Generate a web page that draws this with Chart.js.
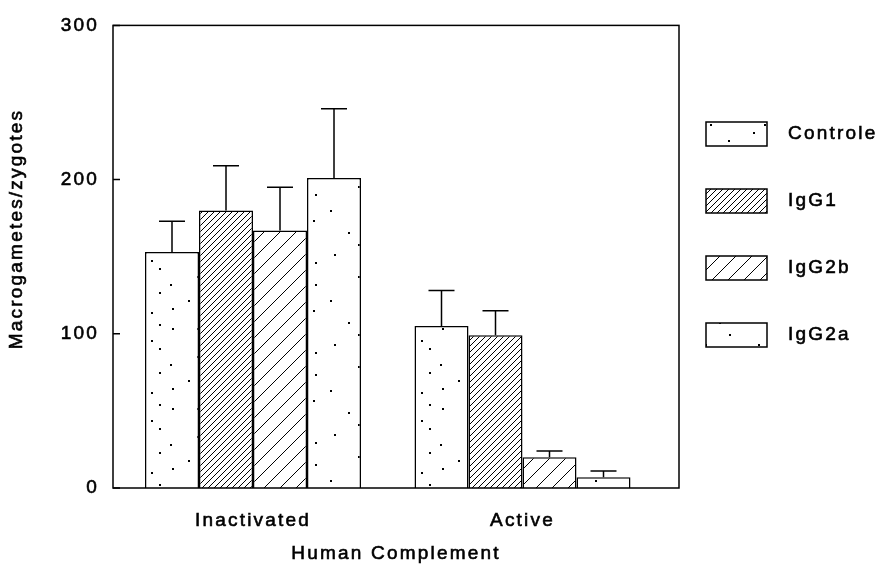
<!DOCTYPE html>
<html>
<head>
<meta charset="utf-8">
<script src="https://cdn.jsdelivr.net/npm/chart.js@4.4.0/dist/chart.umd.min.js"></script>
<style>
  body { margin: 0; background: #fff; }
  #wrap { width: 881px; height: 567px; }
</style>
</head>
<body>
<div id="wrap"><canvas id="myChart"></canvas></div>
<script>
// Values
const groups = ['Inactivated', 'Active'];
const groupPos = [0, 1];
const seriesNames = ['Controle', 'IgG1', 'IgG2b', 'IgG2a'];
const controle = [153, 105];
const igg1 = [180, 99];
const igg2b = [167, 20];
const igg2a = [201, 7];
const controleErr = [20, 23];
const igg1Err = [29, 16];
const igg2bErr = [28, 4];
const igg2aErr = [45, 4];
const yTicks = [0, 100, 200, 300];

const errs = [controleErr, igg1Err, igg2bErr, igg2aErr];
const ink = '#000';
const fontFamily = "'Liberation Sans', Arial, sans-serif";
const fontCss = '19px ' + fontFamily;
const strokeW = 0.6;

// diagonal hatch fill
function hatch(step) {
    const c = document.createElement('canvas');
    c.width = step; c.height = step;
    const g = c.getContext('2d');
    g.fillStyle = '#fff';
    g.fillRect(0, 0, step, step);
    g.strokeStyle = ink;
    g.lineWidth = 1;
    g.beginPath();
    g.moveTo(-1, step + 1); g.lineTo(step + 1, -1);
    g.moveTo(-1, 1); g.lineTo(1, -1);
    g.moveTo(step - 1, step + 1); g.lineTo(step + 1, step - 1);
    g.stroke();
    return g.createPattern(c, 'repeat');
}

// sparse stipple fill
function stipple(w, h, pts) {
    const c = document.createElement('canvas');
    c.width = w; c.height = h;
    const g = c.getContext('2d');
    g.fillStyle = '#fff';
    g.fillRect(0, 0, w, h);
    g.fillStyle = ink;
    pts.forEach(p => g.fillRect(p[0], p[1], 2, 2));
    return g.createPattern(c, 'repeat');
}

const fills = [
    stipple(54, 80, [[10, 8], [35, 8], [51, 4], [43, 20], [51, 28], [35, 36], [8, 44], [51, 52], [26, 60], [10, 68], [43, 72]]),
    hatch(6),
    hatch(16),
    stipple(53, 90, [[40, 6], [50, 14], [12, 30], [48, 40], [30, 52], [40, 64], [16, 74], [50, 82]])
];

const seriesData = [controle, igg1, igg2b, igg2a];

Chart.defaults.font.family = fontFamily;
Chart.defaults.font.size = 19;
Chart.defaults.color = ink;

const spacing = {
    id: 'spacing',
    beforeLayout(chart) { chart.ctx.letterSpacing = '2.2px'; },
    beforeDraw(chart) { chart.ctx.letterSpacing = '2.2px'; }
};

function label(ctx, text, x, y) {
    ctx.lineWidth = strokeW;
    ctx.strokeStyle = ink;
    ctx.strokeText(text, x, y);
    ctx.fillText(text, x, y);
}

// box around the plot, inward y ticks and the axis titles
const frame = {
    id: 'frame',
    afterDraw(chart) {
        const { ctx, chartArea: a, scales } = chart;
        ctx.save();
        ctx.strokeStyle = ink;
        ctx.lineWidth = 1.5;
        ctx.strokeRect(a.left, a.top, a.right - a.left, a.bottom - a.top);
        ctx.beginPath();
        yTicks.forEach(v => {
            const py = scales.y.getPixelForValue(v);
            ctx.moveTo(a.left, py);
            ctx.lineTo(a.left + 7, py);
        });
        ctx.stroke();
        ctx.font = fontCss;
        ctx.fillStyle = ink;
        ctx.textAlign = 'center';
        ctx.textBaseline = 'middle';
        label(ctx, 'Human Complement', (a.left + a.right) / 2, 554);
        ctx.translate(17, 229);
        ctx.rotate(-Math.PI / 2);
        label(ctx, 'Macrogametes/zygotes', 0, 0);
        ctx.restore();
    }
};

const errorBars = {
    id: 'errorBars',
    afterDatasetsDraw(chart) {
        const ctx = chart.ctx, y = chart.scales.y;
        ctx.save();
        ctx.strokeStyle = ink;
        ctx.lineWidth = 1.5;
        chart.data.datasets.forEach((ds, di) => {
            chart.getDatasetMeta(di).data.forEach((bar, i) => {
                const top = y.getPixelForValue(ds.data[i] + errs[di][i]);
                ctx.beginPath();
                ctx.moveTo(bar.x, bar.y);
                ctx.lineTo(bar.x, top);
                ctx.moveTo(bar.x - 13, top);
                ctx.lineTo(bar.x + 13, top);
                ctx.stroke();
            });
        });
        ctx.restore();
    }
};

const sideLegend = {
    id: 'sideLegend',
    afterDraw(chart) {
        const ctx = chart.ctx;
        ctx.save();
        ctx.font = fontCss;
        ctx.textBaseline = 'middle';
        chart.data.datasets.forEach((ds, i) => {
            const cy = 134 + i * 67;
            ctx.fillStyle = ds.backgroundColor;
            ctx.fillRect(706, cy - 12, 61, 24);
            ctx.strokeStyle = ink;
            ctx.lineWidth = 1.5;
            ctx.strokeRect(706, cy - 12, 61, 24);
            ctx.fillStyle = ink;
            label(ctx, ds.label, 788, cy);
        });
        ctx.restore();
    }
};

const tickStyle = { textStrokeColor: ink, textStrokeWidth: strokeW };

const ctx = document.getElementById('myChart').getContext('2d');
const chart = new Chart(ctx, {
    type: 'bar',
    data: {
        labels: groupPos,
        datasets: seriesNames.map((name, i) => ({
            label: name,
            data: seriesData[i],
            backgroundColor: fills[i],
            borderColor: ink,
            borderWidth: 1.5,
            categoryPercentage: 0.8015,
            barPercentage: 1
        }))
    },
    options: {
        responsive: true,
        maintainAspectRatio: false,
        animation: false,
        layout: { padding: { top: 14, right: 202, bottom: 0, left: 0 } },
        plugins: { legend: { display: false }, tooltip: { enabled: false } },
        scales: {
            x: {
                type: 'linear',
                min: -0.5195,
                max: 1.5807,
                offset: false,
                grid: { display: false, drawTicks: false, offset: false },
                border: { display: false },
                afterBuildTicks: s => { s.ticks = groupPos.map(v => ({ value: v })); },
                ticks: {
                    ...tickStyle,
                    autoSkip: false,
                    maxRotation: 0,
                    padding: 21,
                    callback: v => groups[groupPos.indexOf(v)]
                },
                afterFit: s => { s.height = 79; }
            },
            y: {
                min: 0,
                max: 300,
                grid: { display: false, drawTicks: false },
                border: { display: false },
                afterBuildTicks: s => { s.ticks = yTicks.map(v => ({ value: v })); },
                ticks: { ...tickStyle, padding: 14 },
                afterFit: s => { s.width = 113; }
            }
        }
    },
    plugins: [spacing, errorBars, frame, sideLegend]
});
</script>
</body>
</html>
